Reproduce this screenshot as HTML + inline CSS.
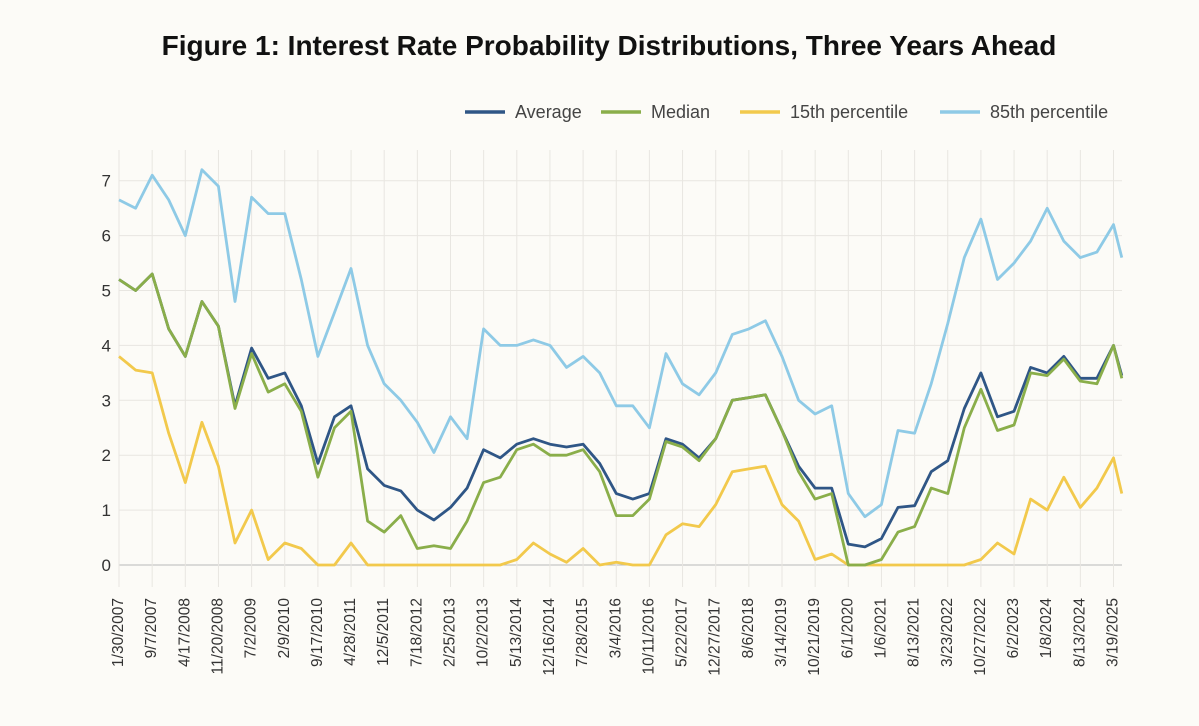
<!DOCTYPE html>
<html><head><meta charset="utf-8"><style>
body{margin:0;background:#fcfbf7;}
svg{display:block;font-family:"Liberation Sans",sans-serif;}
</style></head><body>
<svg id="chart" width="1199" height="726">
<rect width="1199" height="726" fill="#fcfbf7"/>
<text x="609" y="55" text-anchor="middle" font-size="28" font-weight="bold" fill="#111">Figure 1: Interest Rate Probability Distributions, Three Years Ahead</text>
<g id="grid"></g>
<g id="axes"></g>
<g id="series"></g>
<g id="legend"></g>
</svg>
<script>
const xLabels=["1/30/2007","9/7/2007","4/17/2008","11/20/2008","7/2/2009","2/9/2010","9/17/2010","4/28/2011","12/5/2011","7/18/2012","2/25/2013","10/2/2013","5/13/2014","12/16/2014","7/28/2015","3/4/2016","10/11/2016","5/22/2017","12/27/2017","8/6/2018","3/14/2019","10/21/2019","6/1/2020","1/6/2021","8/13/2021","3/23/2022","10/27/2022","6/2/2023","1/8/2024","8/13/2024","3/19/2025"];
const yTicks=[0,1,2,3,4,5,6,7];
const samplePos=[0,0.5,1,1.5,2,2.5,3,3.5,4,4.5,5,5.5,6,6.5,7,7.5,8,8.5,9,9.5,10,10.5,11,11.5,12,12.5,13,13.5,14,14.5,15,15.5,16,16.5,17,17.5,18,18.5,19,19.5,20,20.5,21,21.5,22,22.5,23,23.5,24,24.5,25,25.5,26,26.5,27,27.5,28,28.5,29,29.5,30,30.25];
const average=[5.2,5.0,5.3,4.3,3.8,4.8,4.35,2.9,3.95,3.4,3.5,2.9,1.85,2.7,2.9,1.75,1.45,1.35,1.0,0.82,1.05,1.4,2.1,1.95,2.2,2.3,2.2,2.15,2.2,1.85,1.3,1.2,1.3,2.3,2.2,1.95,2.3,3.0,3.05,3.1,2.45,1.8,1.4,1.4,0.38,0.33,0.48,1.05,1.08,1.7,1.9,2.85,3.5,2.7,2.8,3.6,3.5,3.8,3.4,3.4,4.0,3.45];
const median=[5.2,5.0,5.3,4.3,3.8,4.8,4.35,2.85,3.85,3.15,3.3,2.8,1.6,2.5,2.8,0.8,0.6,0.9,0.3,0.35,0.3,0.8,1.5,1.6,2.1,2.2,2.0,2.0,2.1,1.7,0.9,0.9,1.2,2.25,2.15,1.9,2.3,3.0,3.05,3.1,2.45,1.7,1.2,1.3,0,0,0.1,0.6,0.7,1.4,1.3,2.5,3.2,2.45,2.55,3.5,3.45,3.75,3.35,3.3,4.0,3.4];
const p15=[3.8,3.55,3.5,2.4,1.5,2.6,1.8,0.4,1.0,0.1,0.4,0.3,0,0,0.4,0,0,0,0,0,0,0,0,0,0.1,0.4,0.2,0.05,0.3,0,0.05,0,0,0.55,0.75,0.7,1.1,1.7,1.75,1.8,1.1,0.8,0.1,0.2,0,0,0,0,0,0,0,0,0.1,0.4,0.2,1.2,1.0,1.6,1.05,1.4,1.95,1.3];
const p85=[6.65,6.5,7.1,6.65,6.0,7.2,6.9,4.8,6.7,6.4,6.4,5.2,3.8,4.6,5.4,4.0,3.3,3.0,2.6,2.05,2.7,2.3,4.3,4.0,4.0,4.1,4.0,3.6,3.8,3.5,2.9,2.9,2.5,3.85,3.3,3.1,3.5,4.2,4.3,4.45,3.8,3.0,2.75,2.9,1.3,0.88,1.1,2.45,2.4,3.3,4.4,5.6,6.3,5.2,5.5,5.9,6.5,5.9,5.6,5.7,6.2,5.6];

const NS="http://www.w3.org/2000/svg";
const X0=119,XSTEP=33.15,Y0=565,YSTEP=54.9,XR=1122;
const xs=p=>X0+p*XSTEP, ys=v=>Y0-v*YSTEP;
function mk(tag,attrs,parent){const e=document.createElementNS(NS,tag);for(const k in attrs)e.setAttribute(k,attrs[k]);parent.appendChild(e);return e;}
const grid=document.getElementById('grid'),axes=document.getElementById('axes'),series=document.getElementById('series'),legend=document.getElementById('legend');
yTicks.forEach(t=>{
  const l=mk('line',{x1:X0,x2:XR,y1:ys(t),y2:ys(t),stroke:t===0?'#b8b8b8':'#e8e6e1','stroke-width':1},grid);
  
  
  const tx=mk('text',{x:111,y:ys(t)+6,'text-anchor':'end','font-size':17,fill:'#333'},axes);
  tx.textContent=t;
  
  
});
xLabels.forEach((lab,i)=>{
  const x=xs(i);
  const l=mk('line',{x1:x,x2:x,y1:150,y2:Y0+22,stroke:'#e8e6e1','stroke-width':1},grid);
  
  
  const tx=mk('text',{x:0,y:0,'text-anchor':'end','font-size':15.5,fill:'#333',transform:`translate(${x+4},598) rotate(-90)`},axes);
  tx.textContent=lab;
  
  
});
function drawLine(vals,color,name){
  const d=vals.map((v,i)=>(i?'L':'M')+xs(samplePos[i]).toFixed(1)+','+ys(v).toFixed(1)).join(' ');
  const p=mk('path',{d:d,fill:'none',stroke:color,'stroke-width':2.8,'stroke-linejoin':'round'},series);
  
  
}
drawLine(p85,'#8ecae6','line-85th-percentile');
drawLine(p15,'#f2c94c','line-15th-percentile');
drawLine(average,'#2f5686','line-average');
drawLine(median,'#8aae4a','line-median');
const legNames=["Average","Median","15th percentile","85th percentile"];
const legColors=['#2f5686','#8aae4a','#f2c94c','#8ecae6'];
const legX=[465,601,740,940];
legNames.forEach((n,i)=>{
  const g=mk('g',{},legend);
  
  
  mk('line',{x1:legX[i],x2:legX[i]+40,y1:112,y2:112,stroke:legColors[i],'stroke-width':3.5},g);
  const t=mk('text',{x:legX[i]+50,y:118,'font-size':18,fill:'#444'},g);
  t.textContent=n;
});
</script>
</body></html>
